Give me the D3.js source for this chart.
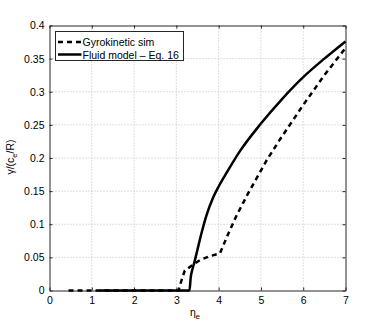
<!DOCTYPE html>
<html>
<head>
<meta charset="utf-8">
<script src="https://cdn.jsdelivr.net/npm/d3@7"></script>
<style>
body { margin: 0; background: #fff; }
svg { display: block; font-family: "Liberation Sans", Arial, sans-serif; }
</style>
</head>
<body>
<svg id="vis" width="382" height="327"></svg>
<script>
// eta_e values and growth rates
var gyroEta   = [0.45, 3.05, 3.12, 3.2, 3.35, 3.56, 3.8, 4.03, 4.23, 4.43, 4.7, 5.14, 5.45, 6.0, 6.5, 7.0];
var gyroGamma = [0, 0, 0.015, 0.03, 0.037, 0.046, 0.052, 0.056, 0.086, 0.114, 0.147, 0.197, 0.228, 0.28, 0.325, 0.366];

var fluidEta   = [1.19, 3.31, 3.34, 3.38, 3.42, 3.5, 3.6, 3.72, 3.86, 4.0, 4.2, 4.5, 5.0, 5.5, 6.0, 6.5, 7.0];
var fluidGamma = [0, 0, 0.02, 0.032, 0.041, 0.062, 0.088, 0.115, 0.139, 0.157, 0.179, 0.21, 0.252, 0.289, 0.322, 0.35, 0.376];

var xTicks = [0, 1, 2, 3, 4, 5, 6, 7];
var yTicks = [0, 0.05, 0.1, 0.15, 0.2, 0.25, 0.3, 0.35, 0.4];
var yTickLabels = ["0", "0.05", "0.1", "0.15", "0.2", "0.25", "0.3", "0.35", "0.4"];

var legendNames = ["Gyrokinetic sim", "Fluid model \u2013 Eq. 16"];

function zip(xs, ys) {
    return xs.map(function(x, i) { return {x: x, y: ys[i]}; });
}

var svg = d3.select('#vis');
var margin = {top: 25.5, right: 36.5, bottom: 36.5, left: 49.5};
var width = 382, height = 327;

var xScale = d3.scaleLinear()
    .domain([0, 7])
    .range([margin.left, width - margin.right]);

var yScale = d3.scaleLinear()
    .domain([0, 0.4])
    .range([height - margin.bottom, margin.top]);

var x0 = xScale(0), x1 = xScale(7), y0 = yScale(0), y1 = yScale(0.4);

// dotted grid
var grid = svg.append("g")
    .attr("stroke", "#bdbdbd")
    .attr("stroke-width", 1)
    .attr("stroke-dasharray", "1,2");

grid.selectAll("line.gx")
    .data(xTicks.slice(1, -1))
    .enter()
    .append("line")
    .attr("x1", function(d) { return xScale(d); })
    .attr("x2", function(d) { return xScale(d); })
    .attr("y1", y0)
    .attr("y2", y1);

grid.selectAll("line.gy")
    .data(yTicks.slice(1, -1))
    .enter()
    .append("line")
    .attr("x1", x0)
    .attr("x2", x1)
    .attr("y1", function(d) { return yScale(d); })
    .attr("y2", function(d) { return yScale(d); });

// axes, ticks inside on all four sides
var tickLen = 3;
var bottomAxis = d3.axisBottom(xScale).tickValues(xTicks).tickSizeInner(-tickLen).tickSizeOuter(0).tickPadding(6).tickFormat(d3.format("d"));
var topAxis = d3.axisTop(xScale).tickValues(xTicks).tickSizeInner(-tickLen).tickSizeOuter(0).tickFormat("");
var leftAxis = d3.axisLeft(yScale).tickValues(yTicks).tickSizeInner(-tickLen).tickSizeOuter(0).tickPadding(5)
    .tickFormat(function(d, i) { return yTickLabels[i]; });
var rightAxis = d3.axisRight(yScale).tickValues(yTicks).tickSizeInner(-tickLen).tickSizeOuter(0).tickFormat("");

function styleAxis(g) {
    g.select(".domain").attr("stroke", "#262626");
    g.selectAll(".tick line").attr("stroke", "#262626");
    g.selectAll(".tick text")
        .attr("fill", "#000")
        .style("font-size", "10.5px")
        .style("font-family", '"Liberation Sans", Arial, sans-serif');
}

svg.append("g").attr("transform", "translate(0," + y0 + ")").call(bottomAxis).call(styleAxis);
svg.append("g").attr("transform", "translate(0," + y1 + ")").call(topAxis).call(styleAxis);
svg.append("g").attr("transform", "translate(" + x0 + ",0)").call(leftAxis).call(styleAxis);
svg.append("g").attr("transform", "translate(" + x1 + ",0)").call(rightAxis).call(styleAxis);

// data lines
var line = d3.line()
    .x(function(d) { return xScale(d.x); })
    .y(function(d) { return yScale(d.y); });

var smoothLine = d3.line()
    .curve(d3.curveMonotoneX)
    .x(function(d) { return xScale(d.x); })
    .y(function(d) { return yScale(d.y); });

svg.append("path")
    .datum(zip(gyroEta, gyroGamma))
    .attr("d", line)
    .attr("fill", "none")
    .attr("stroke", "#000")
    .attr("stroke-width", 2.5)
    .attr("stroke-dasharray", "5,4");

svg.append("path")
    .datum(zip(fluidEta, fluidGamma))
    .attr("d", smoothLine)
    .attr("fill", "none")
    .attr("stroke", "#000")
    .attr("stroke-width", 2.5);

// legend
var legend = svg.append("g").attr("transform", "translate(55.5,31.5)");
legend.append("rect")
    .attr("width", 128)
    .attr("height", 29)
    .attr("fill", "#fff")
    .attr("stroke", "#262626")
    .attr("stroke-width", 1);

legendNames.forEach(function(name, i) {
    var yy = 10.5 + i * 12.5;
    legend.append("line")
        .attr("x1", 2.5)
        .attr("x2", 26)
        .attr("y1", yy)
        .attr("y2", yy)
        .attr("stroke", "#000")
        .attr("stroke-width", 2.5)
        .attr("stroke-dasharray", i == 0 ? "5,4" : null);
    legend.append("text")
        .attr("x", 27)
        .attr("y", yy + 4)
        .style("font-size", "10.5px")
        .text(name);
});

// axis labels
var xl = svg.append("text")
    .attr("x", 195)
    .attr("y", 316)
    .attr("text-anchor", "middle")
    .style("font-size", "10.5px");
xl.append("tspan").text("\u03b7");
xl.append("tspan").attr("dy", 3).style("font-size", "7.5px").text("e");

var yl = svg.append("text")
    .attr("transform", "translate(14,157) rotate(-90)")
    .attr("text-anchor", "middle")
    .style("font-size", "10.5px");
yl.append("tspan").text("\u03b3/(c");
yl.append("tspan").attr("dy", 3).style("font-size", "7.5px").text("e");
yl.append("tspan").attr("dy", -3).text("/R)");
</script>
</body>
</html>
